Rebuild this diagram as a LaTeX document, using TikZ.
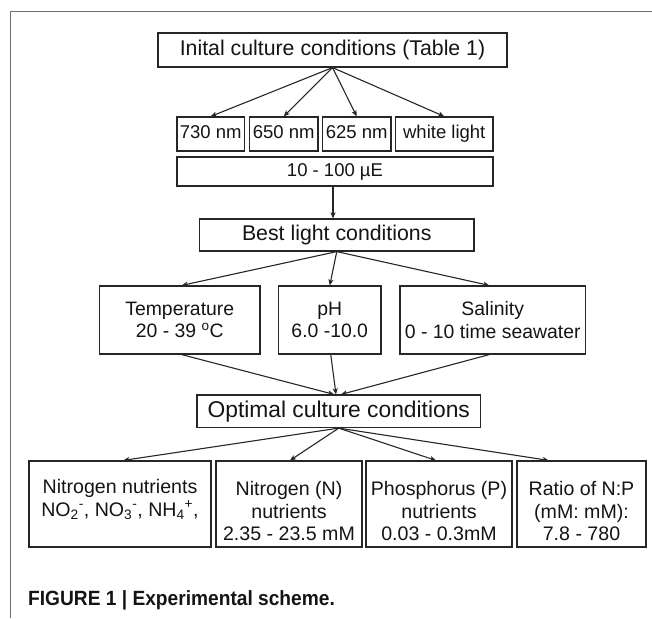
\documentclass[tikz,border=0pt]{standalone}
\usepackage{fontspec}
\setmainfont{Liberation Sans}
\newfontfamily\capfont[FakeStretch=0.93]{Liberation Sans}
\usetikzlibrary{arrows.meta,calc}
\definecolor{boxc}{HTML}{262626}
\definecolor{framec}{HTML}{6E6E6E}
\definecolor{txtc}{HTML}{141414}
\begin{document}
\begin{tikzpicture}[x=1pt,y=-1pt,
  box/.style={draw=boxc, line width=1.2pt, inner sep=0pt, align=center, text=txtc},
  fbig/.style={font=\fontsize{21.3}{25}\selectfont, text height=15.3pt, text depth=4.5pt},
  fopt/.style={font=\fontsize{22.8}{26}\selectfont, text height=16.4pt, text depth=4.8pt},
  fwl/.style={font=\fontsize{18.5}{22}\selectfont, text height=13.3pt, text depth=3.9pt},
  fmid/.style={font=\fontsize{19.4}{22.5}\selectfont},
  fbot/.style={font=\fontsize{19.6}{22.5}\selectfont},
  txt/.style={inner sep=0pt, align=center, text=txtc},
  arr/.style={draw=boxc, line width=1.1pt, -{Stealth[length=6pt,width=5pt,inset=1.5pt]}}]
\useasboundingbox (0,0) rectangle (652,618);
% frame
\coordinate (fbl) at (10.7,618);
\coordinate (ftl) at (10.7,11.7);
\coordinate (ftr) at (652,11.7);
\draw[framec, line width=1.3pt] (fbl) -- (ftl) -- (ftr);
% boxes
\node[box,fbig,minimum width=349pt,minimum height=34pt] (top) at (332.5,50) {Inital culture conditions (Table 1)};
\node[box,fwl,minimum width=67.5pt,minimum height=34pt] (w730) at (210.75,134) {730 nm};
\node[box,fwl,minimum width=68.5pt,minimum height=34pt] (w650) at (283.75,134) {650 nm};
\node[box,fwl,minimum width=68.5pt,minimum height=34pt] (w625) at (356.75,134) {625 nm};
\node[box,fwl,minimum width=97.5pt,minimum height=34pt] (wwh) at (444.25,134) {white light};
\node[box,fwl,minimum width=316pt,minimum height=29pt] (ue) at (335,171.5) {10 - 100 µE};
\node[box,fbig,minimum width=274.5pt,minimum height=32pt] (best) at (336.75,235) {Best light conditions};
\node[box,fmid,minimum width=160.5pt,minimum height=68pt] (temp) at (179.75,320) {Temperature\\20 - 39 \textsuperscript{o}C};
\node[box,fmid,minimum width=102.5pt,minimum height=68pt] (ph) at (329.75,320) {pH\\6.0 -10.0};
\node[box,fmid,minimum width=185.5pt,minimum height=68pt] (sal) at (492.75,320) {Salinity\\0 - 10 time seawater};
\node[box,fopt,minimum width=283.5pt,minimum height=32.5pt] (opt) at (338.75,411.25) {Optimal culture conditions};
\node[box,minimum width=182pt,minimum height=86pt] (nn) at (120,504) {};
\node[box,minimum width=146pt,minimum height=86pt] (nN) at (289,504) {};
\node[box,minimum width=146pt,minimum height=86pt] (np) at (439,504) {};
\node[box,minimum width=129pt,minimum height=86pt] (nr) at (581.5,504) {};
\node[txt,fbot] (nnT) at ($(nn)+(0,-4.5)$) {Nitrogen nutrients\\NO\textsubscript{2}\textsuperscript{-}, NO\textsubscript{3}\textsuperscript{-}, NH\textsubscript{4}\textsuperscript{+},};
\node[txt,fbot] (nNT) at ($(nN)+(0,7)$) {Nitrogen (N)\\nutrients\\2.35 - 23.5 mM};
\node[txt,fbot] (npT) at ($(np)+(0,7)$) {Phosphorus (P)\\nutrients\\0.03 - 0.3mM};
\node[txt,fbot] (nrT) at ($(nr)+(0,7)$) {Ratio of N:P\\(mM: mM):\\7.8 - 780};
% caption
\node[anchor=west, inner sep=0pt, text=txtc, font=\capfont\bfseries\fontsize{20.6}{24}\selectfont] (cap) at (28,600) {FIGURE 1 | Experimental scheme.};
% arrows
\draw[arr] (top.south) -- (w730.north);
\draw[arr] (top.south) -- (w650.north);
\draw[arr] (top.south) -- (w625.north);
\draw[arr] (top.south) -- (wwh.north);
\draw[arr] ($(ue.south)+(-2,0)$) -- ($(best.north)+(-3.75,0)$);
\draw[arr] (best.south) -- ($(temp.north)+(2,0)$);
\draw[arr] (best.south) -- (ph.north);
\draw[arr] (best.south) -- ($(sal.north)+(-3.5,0)$);
\draw[arr] ($(temp.south)+(2,0)$) -- ($(opt.north)+(-4.75,0)$);
\draw[arr] ($(ph.south)+(1,0)$) -- ($(opt.north)+(-2.75,0)$);
\draw[arr] ($(sal.south)+(-3.5,0)$) -- ($(opt.north)+(2.25,0)$);
\draw[arr] (opt.south) -- ($(nn.north)+(3.3,0)$);
\draw[arr] (opt.south) -- ($(nN.north)+(1,0)$);
\draw[arr] (opt.south) -- ($(np.north)+(-3,0)$);
\draw[arr] (opt.south) -- ($(nr.north)+(-32.8,0)$);
\end{tikzpicture}
\end{document}
